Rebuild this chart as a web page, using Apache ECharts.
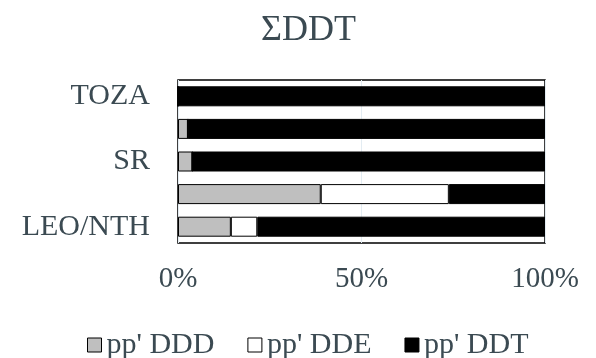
<!DOCTYPE html>
<html>
<head>
<meta charset="utf-8">
<script src="https://cdn.jsdelivr.net/npm/echarts@6/dist/echarts.min.js"></script>
<style>
  html, body { margin: 0; padding: 0; background: #fff; }
  #chart { width: 596px; height: 358px; }
</style>
</head>
<body>
<div id="chart"></div>
<script>
// rows top to bottom, only every other label is shown in the original
var categories = ['TOZA', '', 'SR', '', 'LEO/NTH'];
var seriesNames = ["pp' DDD", "pp' DDE", "pp' DDT"];
var dddValues = [0, 2.7, 3.9, 38.9, 14.4];
var ddeValues = [0, 0, 0, 34.9, 7.2];
var ddtValues = [100, 97.3, 96.1, 26.2, 78.4];
var xTicks = [0, 50, 100];

var textColor = '#3b4a52';
var font = 'Liberation Serif';

function showStackChart() {
	var myChart = echarts.init(document.getElementById('chart'));

	var fills = ['#bfbfbf', '#ffffff', '#000000'];
	var values = [dddValues, ddeValues, ddtValues];

	var series = seriesNames.map(function (name, i) {
		return {
			name: name,
			type: 'bar',
			stack: 'total',
			barWidth: 20,
			itemStyle: { color: fills[i], borderColor: '#000', borderWidth: 1 },
			emphasis: { disabled: true },
			data: values[i]
		};
	});

	var option = {
		backgroundColor: '#ffffff',
		animation: false,
		title: {
			text: '\u03A3DDT',
			left: 256,
			top: 8,
			textStyle: { fontFamily: font, fontSize: 36, fontWeight: 'normal', color: textColor }
		},
		legend: {
			left: 82,
			top: 325,
			itemWidth: 14,
			itemHeight: 14,
			itemGap: 33,
			icon: 'rect',
			data: seriesNames,
			itemStyle: { borderColor: '#000', borderWidth: 1 },
			textStyle: { fontFamily: font, fontSize: 30, color: textColor }
		},
		grid: {
			left: 178,
			right: 51,
			top: 80,
			bottom: 115,
			show: true,
			borderColor: '#000',
			borderWidth: 1.5
		},
		xAxis: {
			type: 'value',
			min: xTicks[0],
			max: xTicks[xTicks.length - 1],
			interval: xTicks[1] - xTicks[0],
			axisLine: { show: false },
			axisTick: { show: false },
			splitLine: { show: true, lineStyle: { color: '#e3ecf2', width: 1 } },
			axisLabel: {
				formatter: '{value}%',
				margin: 22,
				fontFamily: font,
				fontSize: 29,
				color: textColor
			}
		},
		yAxis: {
			type: 'category',
			inverse: true,
			data: categories,
			axisLine: { show: false },
			axisTick: { show: false },
			axisLabel: {
				interval: 0,
				margin: 28,
				fontFamily: font,
				fontSize: 30,
				color: textColor
			}
		},
		series: series
	};

	myChart.setOption(option);
}

showStackChart();
</script>
</body>
</html>
